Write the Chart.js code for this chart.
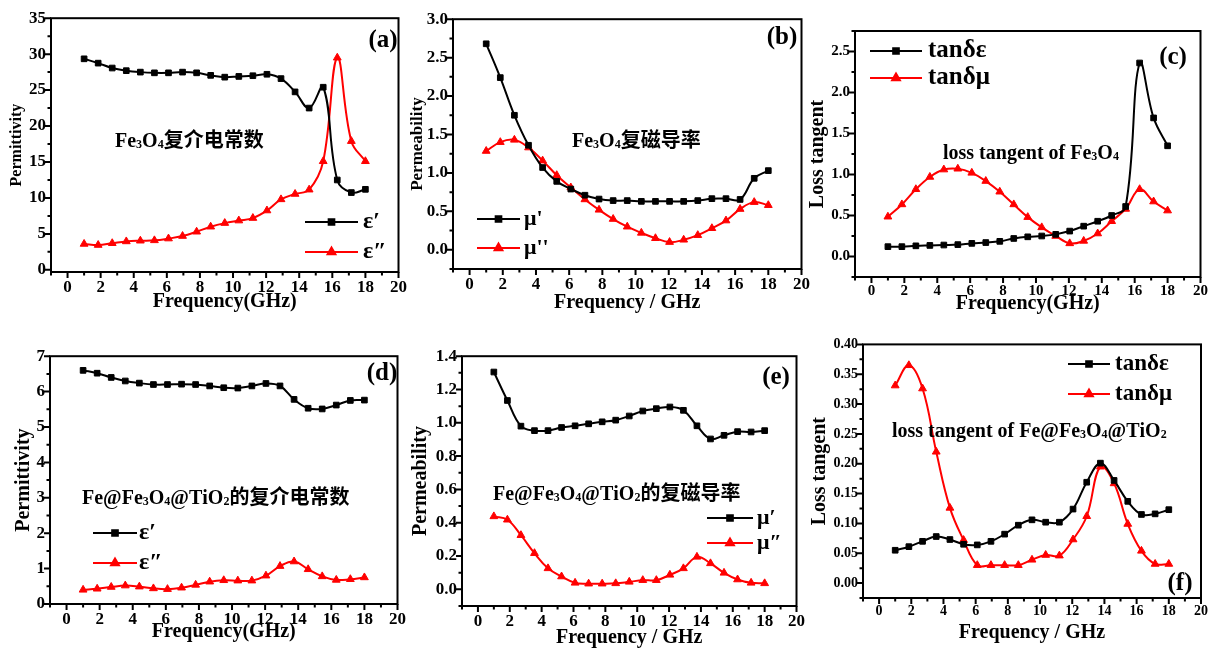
<!DOCTYPE html>
<html lang="zh">
<head>
<meta charset="UTF-8" />
<title>Fe3O4 / Fe@Fe3O4@TiO2 electromagnetic parameters</title>
<script src="https://cdn.jsdelivr.net/npm/chart.js"></script>
<style>
  body { margin: 0; background: #fff; }
  .page { position: relative; width: 1216px; height: 650px; overflow: hidden; }
  .page canvas { position: absolute; }
</style>
</head>
<body>
<div class="page" id="page"></div>
<script>
// frequency points (GHz), shared by all six panels
const freq = [1, 1.85, 2.7, 3.55, 4.4, 5.25, 6.1, 6.95, 7.8, 8.65, 9.5, 10.35, 11.2, 12.05, 12.9, 13.75, 14.6, 15.45, 16.3, 17.15, 18];

// (a) Fe3O4 permittivity
const aEps1 = [29.35, 28.75, 28.07, 27.7, 27.5, 27.4, 27.4, 27.5, 27.4, 27.05, 26.8, 26.9, 27.0, 27.2, 26.6, 24.75, 22.5, 25.4, 12.5, 10.75, 11.2];
const aEps2 = [3.6, 3.45, 3.7, 3.95, 4.05, 4.1, 4.35, 4.7, 5.3, 6.0, 6.5, 6.85, 7.2, 8.25, 9.8, 10.55, 11.15, 15.1, 29.5, 17.9, 15.1];
// (b) Fe3O4 permeability
const bMu1 = [2.68, 2.24, 1.75, 1.36, 1.07, 0.89, 0.79, 0.71, 0.66, 0.64, 0.64, 0.63, 0.63, 0.63, 0.63, 0.64, 0.665, 0.665, 0.655, 0.93, 1.03];
const bMu2 = [1.285, 1.40, 1.43, 1.33, 1.16, 0.97, 0.81, 0.655, 0.52, 0.40, 0.30, 0.22, 0.15, 0.10, 0.13, 0.19, 0.28, 0.38, 0.53, 0.62, 0.58];
// (c) Fe3O4 loss tangent
const cTanE = [0.12, 0.12, 0.13, 0.135, 0.14, 0.145, 0.16, 0.17, 0.185, 0.22, 0.24, 0.25, 0.27, 0.31, 0.37, 0.43, 0.50, 0.61, 2.36, 1.69, 1.35];
const cTanM = [0.485, 0.635, 0.82, 0.97, 1.06, 1.07, 1.02, 0.92, 0.79, 0.635, 0.48, 0.355, 0.25, 0.16, 0.19, 0.28, 0.43, 0.58, 0.82, 0.67, 0.56];
// (d) Fe@Fe3O4@TiO2 permittivity
const dEps1 = [6.60, 6.52, 6.40, 6.30, 6.24, 6.20, 6.20, 6.21, 6.20, 6.16, 6.11, 6.10, 6.16, 6.23, 6.16, 5.78, 5.53, 5.51, 5.62, 5.75, 5.76];
const dEps2 = [0.40, 0.43, 0.48, 0.52, 0.49, 0.44, 0.42, 0.46, 0.54, 0.63, 0.67, 0.66, 0.66, 0.80, 1.07, 1.20, 0.98, 0.78, 0.68, 0.70, 0.75];
// (e) Fe@Fe3O4@TiO2 permeability
const eMu1 = [1.305, 1.134, 0.98, 0.953, 0.953, 0.972, 0.982, 0.994, 1.006, 1.016, 1.041, 1.071, 1.085, 1.095, 1.075, 0.982, 0.903, 0.925, 0.947, 0.945, 0.953];
const eMu2 = [0.438, 0.418, 0.325, 0.217, 0.126, 0.077, 0.039, 0.034, 0.034, 0.036, 0.045, 0.055, 0.055, 0.087, 0.126, 0.195, 0.156, 0.099, 0.059, 0.039, 0.036];
// (f) Fe@Fe3O4@TiO2 loss tangent
const fTanE = [0.055, 0.061, 0.070, 0.078, 0.073, 0.065, 0.064, 0.070, 0.082, 0.097, 0.106, 0.102, 0.102, 0.124, 0.169, 0.201, 0.172, 0.137, 0.115, 0.116, 0.123];
const fTanM = [0.331, 0.365, 0.326, 0.220, 0.126, 0.072, 0.030, 0.030, 0.030, 0.030, 0.039, 0.047, 0.046, 0.073, 0.112, 0.195, 0.167, 0.099, 0.054, 0.032, 0.032];

// x axis: -1..20, labels every 2, minor ticks every 1
const xRange = [-1, 20];
const xMajor = 2;

const SERIF = "'Liberation Serif', 'Times New Roman', 'Noto Sans CJK SC', serif";
const PAD = 12;

Chart.defaults.font.family = SERIF;
Chart.defaults.font.weight = "bold";
Chart.defaults.color = "#000";

const BLACK = { color: "#000", style: "rect", radius: 4 };
const RED = { color: "#ff0000", style: "triangle", radius: 4.5 };

// "_x" means x is drawn as a small subscript
const panels = [
  { tag: "(a)", tagAt: [383, 41], frame: [51, 15, 400, 272], y: [-0.3, 35], yStep: 2.5, yMajor: 5, yDec: 0, tickSize: 17,
    yTitle: "Permittivity", yTitleX: 17, yTitleSize: 16, xTitle: "Frequency(GHz)", xTitleY: 302, xTitleSize: 20,
    series: [[aEps1, BLACK, "ε′"], [aEps2, RED, "ε″"]],
    legend: { x: 305, w: 53, tx: 363, rows: [222, 252], size: 24 },
    note: { text: "Fe_3O_4复介电常数", x: 115, y: 140, size: 20 } },
  { tag: "(b)", tagAt: [782, 38], frame: [453, 16, 803, 269], y: [-0.25, 3.0], yStep: 0.25, yMajor: 0.5, yDec: 1, tickSize: 17,
    yTitle: "Permeability", yTitleX: 417, yTitleSize: 17, xTitle: "Frequency / GHz", xTitleY: 303, xTitleSize: 20,
    series: [[bMu1, BLACK, "μ'"], [bMu2, RED, "μ''"]],
    legend: { x: 477, w: 43, tx: 524, rows: [219, 248], size: 22 },
    note: { text: "Fe_3O_4复磁导率", x: 572, y: 140, size: 20 } },
  { tag: "(c)", tagAt: [1173, 58], frame: [855, 29, 1201, 277], y: [-0.25, 2.75], yStep: 0.25, yMajor: 0.5, yDec: 1, tickSize: 15,
    yTitle: "Loss tangent", yTitleX: 818, yTitleSize: 20, xTitle: "Frequency(GHz)", xTitleY: 304, xTitleSize: 20,
    series: [[cTanE, BLACK, "tanδε"], [cTanM, RED, "tanδμ"]],
    legend: { x: 870, w: 52, tx: 928, rows: [51, 78], size: 25 },
    note: { text: "loss tangent of Fe_3O_4", x: 943, y: 152, size: 20 } },
  { tag: "(d)", tagAt: [382, 374], frame: [50, 353, 399, 604], y: [0, 7], yStep: 0.5, yMajor: 1, yDec: 0, tickSize: 17,
    yTitle: "Permittivity", yTitleX: 24, yTitleSize: 20, xTitle: "Frequency(GHz)", xTitleY: 632, xTitleSize: 20,
    series: [[dEps1, BLACK, "ε′"], [dEps2, RED, "ε″"]],
    legend: { x: 93, w: 44, tx: 139, rows: [533, 563], size: 24 },
    note: { text: "Fe@Fe_3O_4@TiO_2的复介电常数", x: 82, y: 497, size: 20 } },
  { tag: "(e)", tagAt: [776, 378], frame: [462, 353, 798, 606], y: [-0.1, 1.4], yStep: 0.1, yMajor: 0.2, yDec: 1, tickSize: 17,
    yTitle: "Permeability", yTitleX: 421, yTitleSize: 20, xTitle: "Frequency / GHz", xTitleY: 638, xTitleSize: 20,
    series: [[eMu1, BLACK, "μ′"], [eMu2, RED, "μ″"]],
    legend: { x: 707, w: 46, tx: 757, rows: [518, 543], size: 22 },
    note: { text: "Fe@Fe_3O_4@TiO_2的复磁导率", x: 493, y: 493, size: 20 } },
  { tag: "(f)", tagAt: [1180, 584], frame: [863, 343, 1201, 598], y: [-0.025, 0.40], yStep: 0.025, yMajor: 0.05, yDec: 2, tickSize: 14,
    yTitle: "Loss tangent", yTitleX: 820, yTitleSize: 20, xTitle: "Frequency / GHz", xTitleY: 633, xTitleSize: 20,
    series: [[fTanE, BLACK, "tanδε"], [fTanM, RED, "tanδμ"]],
    legend: { x: 1068, w: 42, tx: 1115, rows: [364, 394], size: 23 },
    note: { text: "loss tangent of Fe@Fe_3O_4@TiO_2", x: 892, y: 430, size: 20 } }
];

function isMajor(v, step) {
  const r = v / step;
  return Math.abs(r - Math.round(r)) < 1e-6;
}

function drawRich(ctx, str, x, y, size) {
  let i = 0;
  while (i < str.length) {
    let ch = str[i], sub = false;
    if (ch === "_") { sub = true; ch = str[i + 1]; i += 2; } else { i += 1; }
    ctx.font = "bold " + (sub ? Math.round(size * 0.62) : size) + "px " + SERIF;
    ctx.fillText(ch, x, y + (sub ? size * 0.06 : 0));
    x += ctx.measureText(ch).width;
  }
}

// frame, Origin-style ticks, legend, note and panel letter
function deco(p, ox, oy) {
  return {
    id: "deco",
    afterDraw(chart) {
      const { ctx, chartArea: a, scales } = chart;
      ctx.save();
      ctx.strokeStyle = "#000";
      ctx.lineWidth = 2;
      ctx.strokeRect(a.left, a.top, a.right - a.left, a.bottom - a.top);
      ctx.beginPath();
      scales.x.ticks.forEach(t => {
        const px = scales.x.getPixelForValue(t.value);
        const len = isMajor(t.value, xMajor) ? 6 : 3.5;
        ctx.moveTo(px, a.bottom);
        ctx.lineTo(px, a.bottom + len);
      });
      scales.y.ticks.forEach(t => {
        const py = scales.y.getPixelForValue(t.value);
        const len = isMajor(t.value, p.yMajor) ? 6 : 3.5;
        ctx.moveTo(a.left, py);
        ctx.lineTo(a.left - len, py);
      });
      ctx.stroke();

      ctx.translate(-ox, -oy);
      ctx.fillStyle = "#000";
      // legend
      const L = p.legend;
      p.series.forEach((s, i) => {
        const st = s[1], ry = L.rows[i];
        ctx.strokeStyle = st.color;
        ctx.fillStyle = st.color;
        ctx.lineWidth = 2;
        ctx.beginPath();
        ctx.moveTo(L.x, ry);
        ctx.lineTo(L.x + L.w, ry);
        ctx.stroke();
        Chart.helpers.drawPoint(ctx, { pointStyle: st.style, radius: st.radius, rotation: 0, borderWidth: 1 }, L.x + L.w / 2, ry);
        ctx.fillStyle = "#000";
        ctx.font = "bold " + L.size + "px " + SERIF;
        ctx.textAlign = "left";
        ctx.textBaseline = "middle";
        ctx.fillText(s[2], L.tx, ry);
      });
      // note
      ctx.textBaseline = "alphabetic";
      drawRich(ctx, p.note.text, p.note.x, p.note.y + p.note.size * 0.35, p.note.size);
      // panel letter
      ctx.font = "bold 25px " + SERIF;
      ctx.textAlign = "center";
      ctx.textBaseline = "middle";
      ctx.fillText(p.tag, p.tagAt[0], p.tagAt[1]);
      ctx.restore();
    }
  };
}

const page = document.getElementById("page");

panels.forEach(p => {
  const [L, T, R, B] = p.frame;
  const left = Math.round(p.yTitleX - 0.6 * p.yTitleSize);
  const top = T - PAD;
  const right = R + PAD;
  const bottom = Math.round(p.xTitleY + 0.6 * p.xTitleSize);
  const axW = L - left;
  const axH = bottom - B;

  const canvas = document.createElement("canvas");
  canvas.width = right - left;
  canvas.height = bottom - top;
  canvas.style.left = left + "px";
  canvas.style.top = top + "px";
  page.appendChild(canvas);

  const datasets = p.series.map(s => ({
    label: s[2],
    data: freq.map((f, i) => ({ x: f, y: s[0][i] })),
    borderColor: s[1].color,
    backgroundColor: s[1].color,
    pointStyle: s[1].style,
    pointRadius: s[1].radius,
    pointBorderWidth: 1,
    borderWidth: 2,
    tension: 0.4
  }));

  new Chart(canvas, {
    type: "line",
    data: { datasets },
    options: {
      responsive: false,
      animation: false,
      devicePixelRatio: 1,
      layout: { padding: { top: PAD, right: PAD, left: 0, bottom: 0 } },
      plugins: { legend: { display: false }, tooltip: { enabled: false } },
      scales: {
        x: {
          type: "linear",
          min: xRange[0],
          max: xRange[1],
          afterFit: s => { s.height = axH; },
          grid: { display: false, drawTicks: false },
          border: { display: false },
          ticks: {
            stepSize: 1, maxTicksLimit: 100, autoSkip: false, maxRotation: 0, padding: 5, includeBounds: false,
            font: { size: p.tickSize, weight: "bold" },
            callback: v => (isMajor(v, xMajor) && v >= 0 ? String(v) : "")
          },
          title: { display: true, text: p.xTitle, padding: 0, font: { size: p.xTitleSize, weight: "bold", lineHeight: 1.2 } }
        },
        y: {
          min: p.y[0],
          max: p.y[1],
          afterFit: s => { s.width = axW; },
          grid: { display: false, drawTicks: false },
          border: { display: false },
          ticks: {
            stepSize: p.yStep, maxTicksLimit: 100, autoSkip: false, padding: 5, includeBounds: false,
            font: { size: p.tickSize, weight: "bold" },
            callback: v => (isMajor(v, p.yMajor) && v > -1e-9 ? Math.abs(v).toFixed(p.yDec) : "")
          },
          title: { display: true, text: p.yTitle, padding: 0, font: { size: p.yTitleSize, weight: "bold", lineHeight: 1.2 } }
        }
      }
    },
    plugins: [deco(p, left, top)]
  });
});
</script>
</body>
</html>
